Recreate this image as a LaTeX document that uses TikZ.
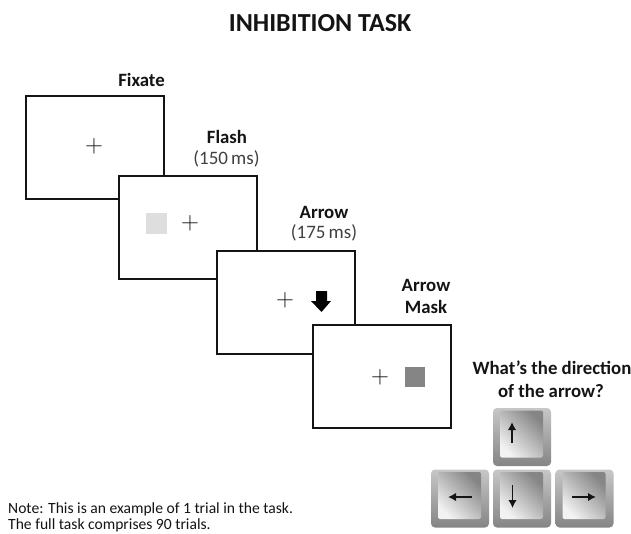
\documentclass[tikz,border=0pt]{standalone}
\usepackage{fontspec}
\setmainfont{Carlito}
\usetikzlibrary{arrows.meta}
\definecolor{ink}{gray}{0.08}
\tikzset{
  screen/.style={draw=ink,line width=1.5pt,fill=white,minimum width=138pt,minimum height=103pt,inner sep=0pt,anchor=north west},
  lab/.style={font=\fontsize{18.8}{22}\selectfont\bfseries,text=ink,align=center,inner sep=0pt},
  timing/.style={font=\fontsize{19}{22}\selectfont,text=black!75,inner sep=0pt},
  cross/.style={font=\fontsize{24.88}{26}\selectfont,text=ink,inner sep=0pt},
  keyouter/.style={rounded corners=4pt,minimum width=58pt,minimum height=58pt,inner sep=0pt,top color=black!22,bottom color=black!48},
  keyinner/.style={rounded corners=2pt,minimum width=43pt,minimum height=47pt,inner sep=0pt,left color=black!48,right color=black!5,shading angle=-45},
  keyarrow/.style={line width=1.7pt,ink,-{Latex[length=8pt,width=8.5pt]}},
}
\begin{document}
\begin{tikzpicture}[x=1pt,y=-1pt]
\useasboundingbox[fill=white] (0,0) rectangle (631,533);
\node[font=\fontsize{26}{30}\selectfont\bfseries,text=ink,inner sep=0pt] (title) at (320,23) {INHIBITION TASK};
\node[screen] (s1) at (25,95) {};
\node[screen] (s2) at (118,175) {};
\node[screen] (s3) at (216,250) {};
\node[screen] (s4) at (312,324) {};
\node[lab] (l1) at (141.5,80) {Fixate};
\node[lab] (l2) at (227,137) {Flash};
\node[timing] (t2) at (226.5,159) {(150\,ms)};
\node[lab] (l3) at (324,212) {Arrow};
\node[timing] (t3) at (324,233) {(175\,ms)};
\node[lab] (l4) at (426,285) {Arrow};
\node[lab] (l4b) at (426,307) {Mask};
\node[cross] (c1) at (94,146) {$+$};
\node[cross] (c2) at (190,223) {$+$};
\node[cross] (c3) at (285,300) {$+$};
\node[cross] (c4) at (380,377) {$+$};
\node[fill=black!13,minimum size=21pt,inner sep=0pt] (flash) at (156.5,223.5) {};
\node[fill=black!48,minimum size=20pt,inner sep=0pt] (mask) at (415,377) {};
\fill[black] (316,291) -- (327,291) -- (327,301) -- (331,301) -- (321.5,312) -- (311,301) -- (316,301) -- cycle;
\node[lab] (q1) at (552,368) {What’s the direction};
\node[lab] (q2) at (551,391) {of the arrow?};
\foreach \n/\x/\y in {up/522/437,left/460/498.5,down/522/498.5,right/584.5/498.5}{
  \node[keyouter] (\n) at (\x,\y) {};
  \node[keyinner] (\n i) at (\x-0.5,\y-3) {};
}
\coordinate (ua) at (512,443); \coordinate (ub) at (512,422);
\draw[keyarrow] (ua) -- (ub);
\coordinate (da) at (512.5,485); \coordinate (db) at (512.5,508);
\draw[keyarrow] (da) -- (db);
\coordinate (la) at (472,497); \coordinate (lb) at (448,497);
\draw[keyarrow] (la) -- (lb);
\coordinate (ra) at (572,497); \coordinate (rb) at (596,497);
\draw[keyarrow] (ra) -- (rb);
\node[font=\fontsize{15.6}{17.5}\selectfont,text=ink,align=left,anchor=base west,inner sep=0pt] (note) at (8,513) {Note: This is an example of 1 trial in the task.};
\node[font=\fontsize{15.6}{17.5}\selectfont,text=ink,align=left,anchor=base west,inner sep=0pt] (note2) at (8,529) {The full task comprises 90 trials.};
\end{tikzpicture}
\end{document}
